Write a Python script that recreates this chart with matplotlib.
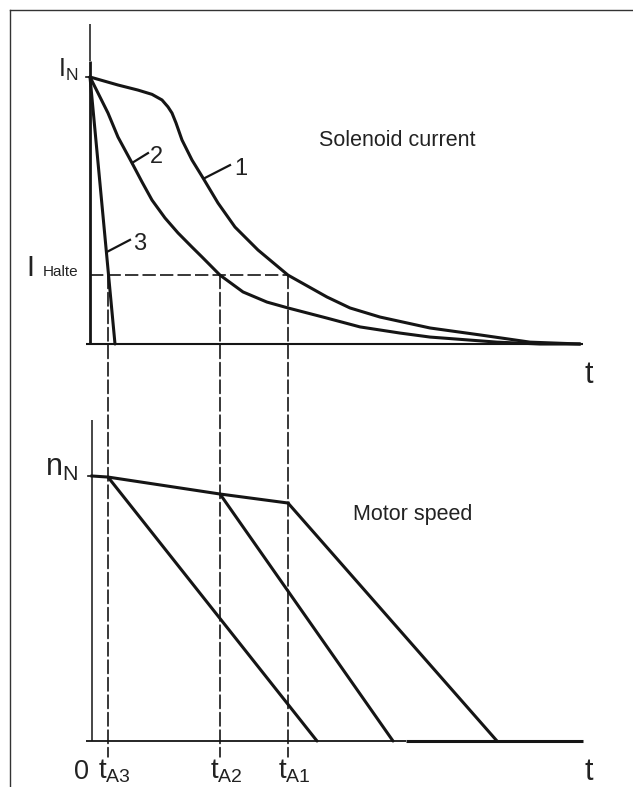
import matplotlib
matplotlib.use("Agg")
import matplotlib.pyplot as plt
from matplotlib.lines import Line2D
from matplotlib.patches import ConnectionPatch

plt.rcParams['font.family'] = ['Liberation Sans', 'DejaVu Sans']
plt.rcParams['mathtext.default'] = 'regular'

# ---------------- data ----------------
# Solenoid current (fraction of I_N) vs time (arbitrary units)
t_curve1 = [0, 1.4, 2.4, 3.1, 3.6, 3.9, 4.1, 4.3, 4.6, 5.1, 5.65, 6.4, 7.25,
            8.4, 9.9, 11.85, 13.0, 14.5, 17.0, 19.5, 22.0, 24.5]
i_curve1 = [1.0, 0.97, 0.951, 0.935, 0.914, 0.888, 0.865, 0.828, 0.764, 0.689,
            0.622, 0.528, 0.438, 0.352, 0.258, 0.176, 0.135, 0.101, 0.060,
            0.034, 0.007, 0.0]
t_curve2 = [0, 0.9, 1.4, 2.1, 2.6, 3.1, 3.75, 4.4, 5.1, 5.6, 6.5, 7.65, 8.85,
            9.9, 11.85, 13.5, 15.5, 17.0, 20.35, 22.5, 24.5]
i_curve2 = [1.0, 0.865, 0.775, 0.678, 0.607, 0.539, 0.472, 0.416, 0.363,
            0.326, 0.258, 0.195, 0.157, 0.135, 0.097, 0.064, 0.041, 0.026,
            0.007, 0.0, 0.0]
t_curve3 = [0, 1.25]
i_curve3 = [1.0, 0.0]
curve_labels = ['1', '2', '3']
i_halte = 0.258

# switch-off times t_A3, t_A2, t_A1
t_A = [0.9, 6.5, 9.9]
tA_labels = [r'$t_{A3}$', r'$t_{A2}$', r'$t_{A1}$']

# Motor speed (fraction of n_N)
t_speed = [0.1, 0.9, 6.5, 9.9]
n_speed = [1.0, 0.996, 0.932, 0.898]
t_stop = [11.35, 15.15, 20.35]

t_axis_end = 24.65

# ---------------- figure ----------------
W, H = 633, 787
fig = plt.figure(figsize=(W / 100, H / 100), dpi=100)
fig.patch.set_facecolor('white')

split = 393
ax1 = fig.add_axes([0, (H - split) / H, 1, split / H])
ax2 = fig.add_axes([0, 0, 1, (H - split) / H])
for ax in (ax1, ax2):
    ax.set_axis_off()
    ax.set_xlim(-4.5, 27.15)
ax1.set_ylim(-0.1835, 1.2884)
ax2.set_ylim(-0.1736, 1.3132)

ink = '#151515'
txt = '#222222'
lw_curve = 2.2
dash = (0, (8, 2.5))

# frame (left and top border)
fig.add_artist(Line2D([9.5 / W, 9.5 / W], [0, 1 - 10 / H], color='#333333', lw=1.0,
                      transform=fig.transFigure))
fig.add_artist(Line2D([9.5 / W, 1], [1 - 10 / H, 1 - 10 / H], color='#333333', lw=1.0,
                      transform=fig.transFigure))

# ---- top panel: solenoid current ----
ax1.plot([0, 0], [1.06, 1.2], color=ink, lw=1.1, solid_capstyle='butt')
ax1.plot([0, 0], [0, 1.06], color=ink, lw=2.0, solid_capstyle='butt')
ax1.plot([-0.2, t_axis_end], [0, 0], color=ink, lw=1.5, solid_capstyle='butt')
ax1.plot([-0.2, 0], [1, 1], color=ink, lw=1.2)

for tt, ii in ((t_curve1, i_curve1), (t_curve2, i_curve2), (t_curve3, i_curve3)):
    ax1.plot(tt, ii, color=ink, lw=lw_curve, solid_joinstyle='round',
             solid_capstyle='round')

ax1.plot([0, t_A[2]], [i_halte, i_halte], color=ink, lw=1.2, linestyle=dash)

# curve labels with leader lines
leaders = [((5.75, 0.622), (7.0, 0.670), (7.2, 0.633)),
           ((2.1, 0.678), (2.9, 0.715), (3.0, 0.678)),
           ((0.85, 0.345), (2.0, 0.39), (2.15, 0.352))]
for lab, (p0, p1, pt) in zip(curve_labels, leaders):
    ax1.plot([p0[0], p1[0]], [p0[1], p1[1]], color=ink, lw=1.6)
    ax1.text(pt[0], pt[1], lab, fontsize=17, color=txt, ha='left', va='baseline')

ax1.text(-0.6, 1.0, r'$I_N$', fontsize=18, color=txt, ha='right', va='baseline')
ax1.text(-0.6, 0.255, 'Halte', fontsize=11, color=txt, ha='right', va='baseline')
ax1.text(-2.8, 0.255, 'I', fontsize=21, color=txt, ha='right', va='baseline')
ax1.text(11.45, 0.764, 'Solenoid current', fontsize=15.5, color=txt,
         ha='left', va='center')
ax1.text(24.95, -0.146, 't', fontsize=22, color=txt, ha='center', va='baseline')

# ---- bottom panel: motor speed ----
ax2.plot([0.1, 0.1], [0, 1.21], color=ink, lw=1.1, solid_capstyle='butt')
ax2.plot([-0.2, 15.8], [0, 0], color=ink, lw=1.3, solid_capstyle='butt')
ax2.plot([15.8, t_axis_end], [0, 0], color=ink, lw=2.2, solid_capstyle='butt')
ax2.plot([-0.1, 0.1], [1, 1], color=ink, lw=1.2)

ax2.plot(t_speed, n_speed, color=ink, lw=lw_curve, solid_joinstyle='round')
for t0, n0, ts in zip(t_speed[1:], n_speed[1:], t_stop):
    ax2.plot([t0, ts], [n0, 0], color=ink, lw=lw_curve, solid_capstyle='round')

# dashed verticals spanning both panels
for ta in t_A:
    cp = ConnectionPatch(xyA=(ta, i_halte), coordsA=ax1.transData,
                         xyB=(ta, -0.06), coordsB=ax2.transData,
                         color=ink, lw=1.2, linestyle=dash)
    fig.add_artist(cp)

for ta, lab in zip(t_A, tA_labels):
    ax2.text(ta - 0.5, -0.143, lab, fontsize=20, color=txt, ha='left',
             va='baseline')
ax2.text(-0.05, -0.143, '0', fontsize=19.5, color=txt, ha='right', va='baseline')
ax2.text(-0.6, 1.0, r'$n_N$', fontsize=22, color=txt, ha='right', va='baseline')
ax2.text(13.15, 0.853, 'Motor speed', fontsize=15.5, color=txt,
         ha='left', va='center')
ax2.text(24.95, -0.147, 't', fontsize=22, color=txt, ha='center', va='baseline')

fig.savefig('out.png', dpi=100, facecolor='white')
